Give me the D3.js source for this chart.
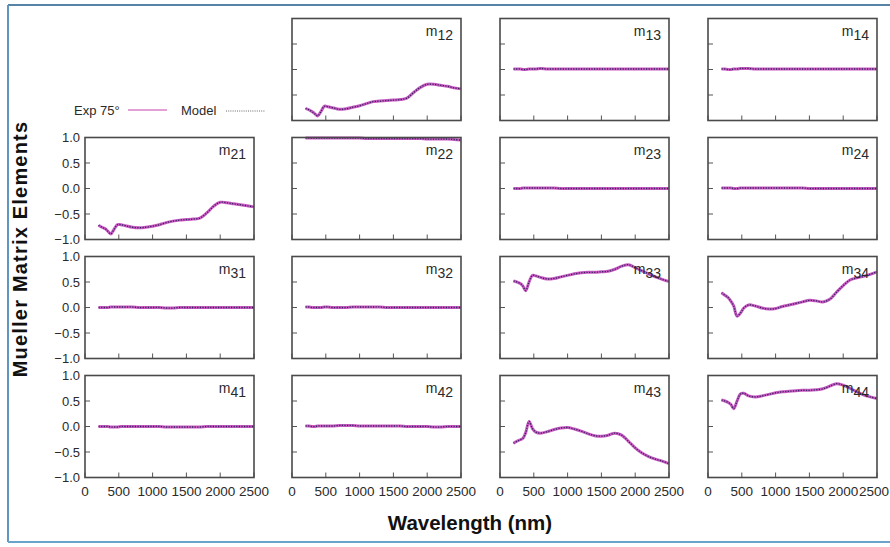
<!DOCTYPE html>
<html>
<head>
<meta charset="utf-8">
<script src="https://cdn.jsdelivr.net/npm/d3@7"></script>
<style>
  body { margin: 0; background: #fff; }
  svg text { font-family: "Liberation Sans", Arial, sans-serif; fill: #2a2a2a; }
</style>
</head>
<body>
<svg id="chart" width="890" height="547"></svg>
<script>
// wavelength grid (nm), shared by every element
var wavelengths = [200, 250, 300, 340, 380, 430, 480, 530, 600, 700, 800, 900, 1000, 1100,
  1200, 1300, 1400, 1500, 1600, 1700, 1800, 1900, 2000, 2100, 2200, 2300, 2400, 2500];

var m12 = [-0.76, -0.79, -0.83, -0.87, -0.91, -0.82, -0.72, -0.73, -0.75, -0.78, -0.77, -0.74, -0.71, -0.67,
  -0.63, -0.62, -0.61, -0.60, -0.59, -0.56, -0.45, -0.35, -0.29, -0.29, -0.31, -0.33, -0.36, -0.38];
var m13 = [0.01, 0.01, 0.01, 0.0, 0.0, 0.01, 0.01, 0.01, 0.02, 0.01, 0.01, 0.01, 0.01, 0.01,
  0.01, 0.01, 0.01, 0.01, 0.01, 0.01, 0.01, 0.01, 0.01, 0.01, 0.01, 0.01, 0.01, 0.01];
var m14 = [0.01, 0.01, 0.0, 0.0, 0.01, 0.01, 0.02, 0.02, 0.02, 0.01, 0.01, 0.01, 0.01, 0.01,
  0.01, 0.01, 0.01, 0.01, 0.01, 0.01, 0.01, 0.01, 0.01, 0.01, 0.01, 0.01, 0.01, 0.01];
var m21 = [-0.72, -0.76, -0.79, -0.84, -0.89, -0.80, -0.71, -0.71, -0.73, -0.76, -0.77, -0.76, -0.74, -0.71,
  -0.67, -0.64, -0.62, -0.61, -0.60, -0.58, -0.48, -0.35, -0.27, -0.28, -0.30, -0.32, -0.34, -0.36];
var m22 = [0.99, 0.99, 0.99, 0.99, 0.99, 0.99, 0.99, 0.99, 0.99, 0.99, 0.99, 0.99, 0.99, 0.98,
  0.98, 0.98, 0.98, 0.98, 0.98, 0.98, 0.98, 0.98, 0.97, 0.97, 0.97, 0.97, 0.96, 0.95];
var m23 = [0.0, 0.0, 0.0, 0.01, 0.01, 0.01, 0.01, 0.01, 0.01, 0.01, 0.01, 0.0, 0.0, 0.0,
  0.0, 0.0, 0.0, 0.0, 0.0, 0.0, 0.0, 0.0, 0.0, 0.0, 0.0, 0.0, 0.0, 0.0];
var m24 = [0.01, 0.01, 0.01, 0.01, 0.0, 0.0, 0.01, 0.01, 0.01, 0.01, 0.01, 0.01, 0.01, 0.01,
  0.01, 0.01, 0.01, 0.0, 0.0, 0.0, 0.0, 0.0, 0.0, 0.0, 0.0, 0.0, 0.0, 0.0];
var m31 = [0.0, 0.0, 0.0, 0.0, 0.01, 0.01, 0.01, 0.01, 0.01, 0.01, 0.0, 0.0, 0.0, 0.0,
  -0.01, -0.01, 0.0, 0.0, 0.0, 0.0, 0.0, 0.0, 0.0, 0.0, 0.0, 0.0, 0.0, 0.0];
var m32 = [0.01, 0.01, 0.0, 0.0, 0.0, 0.0, 0.01, 0.01, 0.0, 0.0, 0.0, 0.01, 0.01, 0.01,
  0.01, 0.01, 0.0, 0.0, 0.0, 0.0, 0.0, 0.0, 0.0, 0.0, 0.0, 0.0, 0.0, 0.0];
var m33 = [0.52, 0.50, 0.47, 0.42, 0.33, 0.50, 0.63, 0.62, 0.59, 0.56, 0.57, 0.60, 0.63, 0.66,
  0.68, 0.69, 0.69, 0.70, 0.71, 0.75, 0.81, 0.84, 0.78, 0.72, 0.66, 0.60, 0.55, 0.51];
var m34 = [0.29, 0.24, 0.19, 0.12, 0.03, -0.17, -0.11, -0.01, 0.05, 0.03, -0.01, -0.03, -0.02, 0.02,
  0.05, 0.08, 0.11, 0.14, 0.13, 0.11, 0.16, 0.30, 0.43, 0.54, 0.58, 0.61, 0.65, 0.70];
var m41 = [0.0, 0.0, 0.0, 0.0, -0.01, -0.01, -0.01, 0.0, 0.0, 0.0, 0.0, 0.0, 0.0, 0.0,
  -0.01, -0.01, -0.01, -0.01, -0.01, -0.01, 0.0, 0.0, 0.0, 0.0, 0.0, 0.0, 0.0, 0.0];
var m42 = [0.01, 0.01, 0.0, 0.0, 0.01, 0.01, 0.01, 0.01, 0.01, 0.02, 0.02, 0.02, 0.01, 0.01,
  0.01, 0.01, 0.01, 0.01, 0.01, 0.0, 0.0, 0.0, 0.0, -0.01, -0.01, 0.0, 0.0, 0.0];
var m43 = [-0.33, -0.29, -0.26, -0.23, -0.12, 0.10, -0.04, -0.11, -0.13, -0.10, -0.06, -0.03, -0.02, -0.05,
  -0.09, -0.14, -0.18, -0.19, -0.17, -0.13, -0.17, -0.29, -0.42, -0.52, -0.59, -0.64, -0.68, -0.73];
var m44 = [0.52, 0.50, 0.47, 0.43, 0.35, 0.50, 0.64, 0.65, 0.60, 0.58, 0.60, 0.63, 0.66, 0.68,
  0.69, 0.70, 0.71, 0.71, 0.72, 0.74, 0.79, 0.84, 0.81, 0.75, 0.68, 0.62, 0.58, 0.55];

// element name, row, column (m11 is normalised and left out)
var panels = [
  ["12", 0, 1, m12], ["13", 0, 2, m13], ["14", 0, 3, m14],
  ["21", 1, 0, m21], ["22", 1, 1, m22], ["23", 1, 2, m23], ["24", 1, 3, m24],
  ["31", 2, 0, m31], ["32", 2, 1, m32], ["33", 2, 2, m33], ["34", 2, 3, m34],
  ["41", 3, 0, m41], ["42", 3, 1, m42], ["43", 3, 2, m43], ["44", 3, 3, m44]
];

var xTicks = [0, 500, 1000, 1500, 2000, 2500];
var yTicks = [-1.0, -0.5, 0.0, 0.5, 1.0];

var colX = [85, 292, 500, 708],
    rowY = [18.5, 137.5, 256.5, 375.5],
    pw = 169, ph = 102;

var svg = d3.select("#chart");

// outer frame
svg.append("line").attr("x1", 8).attr("x2", 890).attr("y1", 5).attr("y2", 5)
  .style("stroke", "#1f5a88").style("stroke-width", 1.5);
svg.append("line").attr("x1", 8).attr("x2", 8).attr("y1", 5).attr("y2", 542)
  .style("stroke", "#5f97c2").style("stroke-width", 2);
svg.append("line").attr("x1", 8).attr("x2", 890).attr("y1", 542).attr("y2", 542)
  .style("stroke", "#6aa3cc").style("stroke-width", 2);

var x = d3.scaleLinear().domain([0, 2500]).range([0, pw]);
var y = d3.scaleLinear().domain([-1, 1]).range([ph, 0]);

var line = d3.line()
  .x(function(d) { return x(d[0]); })
  .y(function(d) { return y(d[1]); })
  .curve(d3.curveCatmullRom);

panels.forEach(function(p) {
  var g = svg.append("g").attr("transform", "translate(" + colX[p[2]] + "," + rowY[p[1]] + ")");
  var pts = wavelengths.map(function(w, i) { return [w, p[3][i]]; });

  // experiment (pink) and model (dark dotted) on top
  g.append("path").datum(pts).attr("d", line)
    .style("fill", "none").style("stroke", "#c85cc4").style("stroke-width", 3);
  g.append("path").datum(pts).attr("d", line)
    .style("fill", "none").style("stroke", "#3a1f5c").style("stroke-width", 1.3)
    .style("stroke-dasharray", "1.2,1.4");

  // inside ticks
  g.selectAll(".xt").data(xTicks).enter().append("line")
    .attr("x1", function(d) { return x(d); }).attr("x2", function(d) { return x(d); })
    .attr("y1", ph).attr("y2", ph - 5)
    .style("stroke", "#555").style("stroke-width", 1);
  g.selectAll(".yt").data(yTicks).enter().append("line")
    .attr("y1", function(d) { return y(d); }).attr("y2", function(d) { return y(d); })
    .attr("x1", 0).attr("x2", 5)
    .style("stroke", "#555").style("stroke-width", 1);

  g.append("rect").attr("width", pw).attr("height", ph)
    .style("fill", "none").style("stroke", "#4a4a4a").style("stroke-width", 1.6);

  var lab = g.append("text").attr("x", pw - 8).attr("y", 17)
    .attr("text-anchor", "end").style("font-size", "14px");
  lab.append("tspan").text("m");
  lab.append("tspan").attr("dy", 4).text(p[0]);

  if (p[2] == 0) {
    g.selectAll(".yl").data(yTicks).enter().append("text")
      .attr("x", -5).attr("y", function(d) { return y(d); }).attr("dy", "0.35em")
      .attr("text-anchor", "end").style("font-size", "13px")
      .text(function(d) { return d3.format(".1f")(d); });
  }
  if (p[1] == 3) {
    var lastCol = p[2] == 3;
    g.selectAll(".xl").data(xTicks).enter().append("text")
      .attr("x", function(d) { return (lastCol && d == 2500) ? pw + 12 : x(d); })
      .attr("y", ph + 18)
      .attr("text-anchor", function(d) { return (lastCol && d == 2500) ? "end" : "middle"; })
      .style("font-size", "13.5px")
      .text(function(d) { return d; });
  }
});

// legend
svg.append("text").attr("x", 74).attr("y", 115).style("font-size", "13px").text("Exp 75°");
svg.append("line").attr("x1", 128).attr("x2", 167).attr("y1", 110).attr("y2", 110)
  .style("stroke", "#e3a0d4").style("stroke-width", 2);
svg.append("text").attr("x", 181).attr("y", 115).style("font-size", "13px").text("Model");
svg.append("line").attr("x1", 226).attr("x2", 265).attr("y1", 111).attr("y2", 111)
  .style("stroke", "#666").style("stroke-width", 1).style("stroke-dasharray", "1,1.2");

// axis titles
svg.append("text").attr("transform", "translate(27,249) rotate(-90)")
  .attr("text-anchor", "middle").style("font-size", "20px").style("font-weight", "bold")
  .style("letter-spacing", "1.2px").style("fill", "#111")
  .text("Mueller Matrix Elements");
svg.append("text").attr("x", 470).attr("y", 530)
  .attr("text-anchor", "middle").style("font-size", "20.5px").style("font-weight", "bold")
  .style("fill", "#111")
  .text("Wavelength (nm)");
</script>
</body>
</html>
